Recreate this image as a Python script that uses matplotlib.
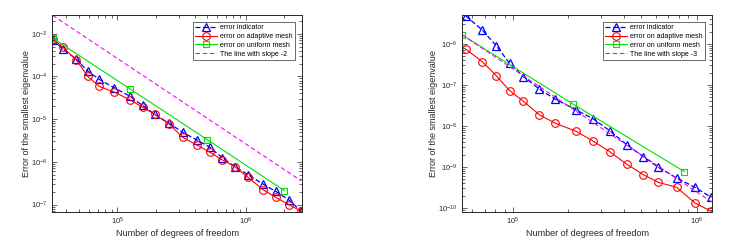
import matplotlib
matplotlib.use("Agg")
import matplotlib.pyplot as plt
from matplotlib.ticker import LogLocator, NullFormatter

plt.rcParams['font.family'] = ['Liberation Sans', 'DejaVu Sans']
plt.rcParams['mathtext.fontset'] = 'custom'
plt.rcParams['mathtext.rm'] = 'Liberation Sans'

# ---- Left panel data ----
L_dof_adapt = [3.13e4, 3.74e4, 4.77e4, 5.88e4, 7.24e4, 9.48e4, 1.25e5, 1.57e5, 1.96e5, 2.52e5,
               3.22e5, 4.14e5, 5.25e5, 6.59e5, 8.22e5, 1.04e6, 1.36e6, 1.71e6, 2.17e6, 2.71e6]
L_indicator = [7.23e-4, 4.45e-4, 2.55e-4, 1.33e-4, 8.5e-5, 5.4e-5, 3.46e-5, 2.09e-5, 1.29e-5, 8.06e-6,
               4.96e-6, 3.28e-6, 2.21e-6, 1.24e-6, 7.78e-7, 5.05e-7, 3.05e-7, 2.05e-7, 1.29e-7, 6.98e-8]
L_err_adapt = [7.63e-4, 4.87e-4, 2.46e-4, 1.0e-4, 5.83e-5, 4.29e-5, 2.84e-5, 1.91e-5, 1.29e-5, 7.78e-6,
               3.79e-6, 2.50e-6, 1.69e-6, 1.11e-6, 7.78e-7, 4.38e-7, 2.25e-7, 1.49e-7, 1.0e-7, 6.98e-8]
L_dof_unif = [3.13e4, 1.25e5, 5.0e5, 2.0e6]
L_err_unif = [7.9e-4, 5.14e-5, 3.34e-6, 2.13e-7]
L_ref_x = [3.13e4, 2.71e6]
L_ref_y = [2.69e-3, 3.59e-7]

# ---- Right panel data ----
R_dof_adapt = [5.52e4, 6.81e4, 8.11e4, 9.59e4, 1.14e5, 1.39e5, 1.69e5, 2.21e5, 2.74e5, 3.36e5,
               4.15e5, 5.12e5, 6.18e5, 7.78e5, 9.79e5, 1.20e6]
R_indicator = [4.91e-6, 2.19e-6, 9.1e-7, 3.37e-7, 1.60e-7, 7.98e-8, 4.56e-8, 2.46e-8, 1.48e-8, 7.69e-9,
               3.51e-9, 1.79e-9, 9.82e-10, 5.40e-10, 3.19e-10, 1.82e-10]
R_err_adapt = [7.55e-7, 3.71e-7, 1.69e-7, 7.28e-8, 4.0e-8, 1.89e-8, 1.18e-8, 7.41e-9, 4.23e-9, 2.37e-9,
               1.18e-9, 6.50e-10, 4.23e-10, 3.19e-10, 1.32e-10, 8.3e-11]
R_dof_unif = [5.30e4, 2.12e5, 8.57e5]
R_err_unif = [1.66e-6, 3.44e-8, 7.69e-10]
R_ref_x = [5.30e4, 1.20e6]
R_ref_y = [1.66e-6, 1.43e-10]

labels_left = ['error indicator', 'error on adaptive mesh', 'error on uniform mesh', 'The line with slope -2']
labels_right = ['error indicator', 'error on adaptive mesh', 'error on uniform mesh', 'The line with slope -3']

W, H = 742, 242
fig = plt.figure(figsize=(W / 100, H / 100), dpi=100)

def make_ax(left_px, data, labels, xlim, ylim):
    ax = fig.add_axes([left_px / W, (H - 212) / H, 250 / W, 197 / H])
    dof_a, ind, err_a, dof_u, err_u, rx, ry = data
    ax.plot(dof_a, ind, color='#0000ff', ls='--', lw=0.9, marker='^', ms=5.5,
            mfc='none', mec='#0000ff', mew=0.9, dashes=(4, 2), label=labels[0])
    ax.plot(dof_a, err_a, color='#ff0000', ls='-', lw=0.8, marker='o', ms=5.5,
            mfc='none', mec='#ff0000', mew=0.8, label=labels[1])
    ax.plot(dof_u, err_u, color='#00e000', ls='-', lw=0.8, marker='s', ms=4.0,
            mfc='none', mec='#00e000', mew=0.8, label=labels[2])
    ax.plot(rx, ry, color='#ff00ff', ls='--', lw=0.8, dashes=(4, 2.5), label=labels[3])
    ax.set_xscale('log')
    ax.set_yscale('log')
    ax.set_xlim(*xlim)
    ax.set_ylim(*ylim)
    ax.xaxis.set_major_locator(LogLocator(base=10, numticks=20))
    ax.yaxis.set_major_locator(LogLocator(base=10, numticks=20))
    ax.xaxis.set_minor_locator(LogLocator(base=10, subs=range(2, 10), numticks=20))
    ax.yaxis.set_minor_locator(LogLocator(base=10, subs=range(2, 10), numticks=20))
    ax.xaxis.set_minor_formatter(NullFormatter())
    ax.yaxis.set_minor_formatter(NullFormatter())
    ax.tick_params(which='both', direction='in', top=True, right=True,
                   labelsize=5.5, colors='#262626', width=0.5)
    ax.tick_params(which='major', length=3.5, pad=3)
    ax.tick_params(which='minor', length=2)
    for s in ax.spines.values():
        s.set_linewidth(0.7)
        s.set_color('#262626')
    ax.set_xlabel('Number of degrees of freedom', fontsize=6.5, color='#262626', labelpad=1)
    ax.set_ylabel('Error of the smallest eigenvalue', fontsize=6.5, color='#262626', labelpad=0.5)
    leg = ax.legend(loc='upper right', fontsize=5, frameon=True, fancybox=False,
                    edgecolor='#262626', handlelength=3.2, handletextpad=0.4,
                    borderpad=0.35, labelspacing=0.25, borderaxespad=1.0)
    leg.get_frame().set_linewidth(0.6)
    return ax

make_ax(52, (L_dof_adapt, L_indicator, L_err_adapt, L_dof_unif, L_err_unif, L_ref_x, L_ref_y),
        labels_left, (3.09e4, 2.75e6), (6.7e-8, 2.75e-3))
make_ax(462, (R_dof_adapt, R_indicator, R_err_adapt, R_dof_unif, R_err_unif, R_ref_x, R_ref_y),
        labels_right, (5.28e4, 1.21e6), (8.0e-11, 5.1e-6))

fig.savefig('out.png', dpi=100)
